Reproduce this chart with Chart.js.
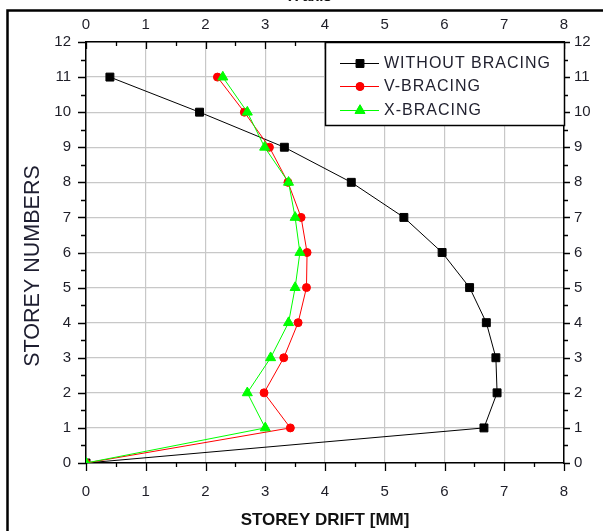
<!DOCTYPE html>
<html>
<head>
<meta charset="utf-8">
<script src="https://cdn.jsdelivr.net/npm/chart.js@4"></script>
<style>
html,body{margin:0;padding:0;background:#fff;}
#wrap{width:603px;height:531px;position:relative;}
</style>
</head>
<body>
<div id="wrap"><canvas id="c" width="603" height="531"></canvas></div>
<script>
const storeys = [0,1,2,3,4,5,6,7,8,9,10,11];
const withoutBracing = [0,6.66,6.88,6.86,6.70,6.42,5.96,5.32,4.44,3.32,1.90,0.40];
const vBracing = [0,3.42,2.98,3.31,3.55,3.69,3.70,3.60,3.38,3.07,2.65,2.20];
const xBracing = [0,3.00,2.70,3.09,3.39,3.50,3.58,3.50,3.39,2.99,2.70,2.29];
const seriesNames = ['WITHOUT BRACING','V-BRACING','X-BRACING'];
const xTickLabels = ['0','1','2','3','4','5','6','7','8'];
const yTickLabels = ['0','1','2','3','4','5','6','7','8','9','10','11','12'];
const xTitle = 'STOREY DRIFT [MM]';
const yTitle = 'STOREY NUMBERS';

const toPts = (xs) => xs.map((v,i)=>({x:v,y:storeys[i]}));
const FONT = '"Liberation Sans", Arial, sans-serif';
const LBL = '#1e1e28';

const frameAndTicks = {
  id:'frameAndTicks',
  beforeDraw(chart){
    const ctx = chart.ctx;
    ctx.save();
    ctx.strokeStyle = '#000';
    ctx.lineWidth = 2.5;
    ctx.strokeRect(7.5, 10.5, 620, 560);
    // clipped top text
    ctx.fillStyle = '#111';
    ctx.font = 'bold 15px ' + FONT;
    ctx.textAlign = 'center';
    ctx.textBaseline = 'alphabetic';
    ctx.fillText('X axis', 310, 1);
    ctx.restore();
  },
  afterDraw(chart){
    const ctx = chart.ctx;
    ctx.save();
    ctx.translate(33, 266);
    ctx.rotate(-Math.PI/2);
    ctx.fillStyle = '#1e1e30';
    ctx.font = '21.5px ' + FONT;
    ctx.textAlign = 'center';
    ctx.textBaseline = 'middle';
    ctx.fillText(yTitle, 0, 0);
    ctx.restore();
  },
  afterDatasetsDraw(chart){
    const ctx = chart.ctx;
    const xs = chart.scales.x, ys = chart.scales.y;
    const L = chart.chartArea.left, R = chart.chartArea.right, T = chart.chartArea.top, B = chart.chartArea.bottom;
    ctx.save();
    ctx.strokeStyle = '#000';
    ctx.lineWidth = 1.3;
    for (let v = 0; v <= 8.001; v += 0.5) {
      const px = Math.round(xs.getPixelForValue(v)) + 0.5;
      const major = Math.abs(v - Math.round(v)) < 1e-6;
      const len = major ? 8 : 4;
      ctx.beginPath();
      ctx.moveTo(px, B); ctx.lineTo(px, B + len);
      ctx.moveTo(px, T); ctx.lineTo(px, T + (major ? 7 : 4));
      ctx.stroke();
    }
    for (let v = 0; v <= 12.001; v += 0.5) {
      const py = Math.round(ys.getPixelForValue(v)) + 0.5;
      const major = Math.abs(v - Math.round(v)) < 1e-6;
      const len = major ? 8 : 5;
      ctx.beginPath();
      ctx.moveTo(L, py); ctx.lineTo(L - len, py);
      ctx.moveTo(R, py); ctx.lineTo(R + (major ? 6 : 4), py);
      ctx.stroke();
    }
    // legend box
    const bx = xs.getPixelForValue(4), by = T, bw = R - bx, bh = 83;
    ctx.fillStyle = '#fff';
    ctx.fillRect(bx, by, bw, bh);
    ctx.lineWidth = 1.5;
    ctx.strokeStyle = '#000';
    ctx.strokeRect(bx + 0.5, by + 0.5, bw, bh);
    const rows = [by + 21, by + 44, by + 68];
    chart.data.datasets.forEach((ds, i) => {
      const y = rows[i];
      ctx.strokeStyle = ds.borderColor;
      ctx.lineWidth = 1;
      ctx.beginPath();
      ctx.moveTo(bx + 15, y + 0.5); ctx.lineTo(bx + 54, y + 0.5);
      ctx.stroke();
      Chart.helpers.drawPoint(ctx, {
        pointStyle: ds.pointStyle, radius: ds.pointRadius, borderWidth: 1, rotation: 0
      }, bx + 35, y + 0.5);
      ctx.fillStyle = ds.pointBackgroundColor;
      ctx.strokeStyle = ds.pointBorderColor;
      ctx.fill();
      ctx.fillStyle = '#222230';
      ctx.font = '16px ' + FONT;
      ctx.textAlign = 'left';
      ctx.textBaseline = 'middle';
      try { ctx.letterSpacing = '1px'; } catch(e) {}
      ctx.fillText(seriesNames[i], bx + 59, y + 1);
      try { ctx.letterSpacing = '0px'; } catch(e) {}
    });
    ctx.restore();
  }
};

const mk = (name, data, color, style, r, order) => ({
  label: name,
  data: toPts(data),
  showLine: true,
  borderColor: color,
  backgroundColor: color,
  borderWidth: 1,
  pointStyle: style,
  pointRadius: r,
  pointHoverRadius: r,
  pointBackgroundColor: color,
  pointBorderColor: color,
  pointBorderWidth: 1,
  order: order
});

new Chart(document.getElementById('c'), {
  type: 'scatter',
  data: {
    datasets: [
      mk(seriesNames[0], withoutBracing, '#000000', 'rect', 5.6, 3),
      mk(seriesNames[1], vBracing, '#ff0000', 'circle', 4, 2),
      mk(seriesNames[2], xBracing, '#00ff00', 'triangle', 5.8, 1)
    ]
  },
  plugins: [frameAndTicks],
  options: {
    responsive: false,
    animation: false,
    events: [],
    layout: { padding: 0 },
    plugins: { legend: { display: false }, tooltip: { enabled: false } },
    scales: {
      x: {
        type: 'linear', position: 'bottom', min: 0, max: 8,
        afterFit: (s) => { s.height = 68; },
        grid: { display: true, color: '#c8c8c8', lineWidth: 1.2, drawTicks: false },
        border: { display: true, color: '#000', width: 1.5 },
        ticks: { stepSize: 1, padding: 20, color: LBL, font: { family: FONT, size: 15 },
                 callback: (v) => xTickLabels[v] ?? '' , maxRotation: 0, autoSkip: false },
        title: { display: true, text: xTitle, color: '#111', font: { family: FONT, size: 17, weight: 'bold' }, padding: { top: 0, bottom: 0 } }
      },
      x2: {
        type: 'linear', position: 'top', min: 0, max: 8,
        afterFit: (s) => { s.height = 42; },
        grid: { display: false, drawTicks: false },
        border: { display: true, color: '#000', width: 1.5 },
        ticks: { stepSize: 1, padding: 8, color: LBL, font: { family: FONT, size: 15 },
                 callback: (v) => xTickLabels[v] ?? '', maxRotation: 0, autoSkip: false }
      },
      y: {
        type: 'linear', position: 'left', min: 0, max: 12,
        afterFit: (s) => { s.width = 86; },
        grid: { display: true, color: '#c8c8c8', lineWidth: 1.2, drawTicks: false },
        border: { display: true, color: '#000', width: 1.5 },
        ticks: { stepSize: 1, padding: 15, color: LBL, font: { family: FONT, size: 15 },
                 callback: (v) => yTickLabels[v] ?? '', autoSkip: false }
      },
      y2: {
        type: 'linear', position: 'right', min: 0, max: 12,
        afterFit: (s) => { s.width = 39; },
        grid: { display: false, drawTicks: false },
        border: { display: true, color: '#000', width: 1.5 },
        ticks: { stepSize: 1, padding: 10, color: LBL, font: { family: FONT, size: 15 },
                 callback: (v) => yTickLabels[v] ?? '', autoSkip: false }
      }
    }
  }
});
</script>
</body>
</html>
